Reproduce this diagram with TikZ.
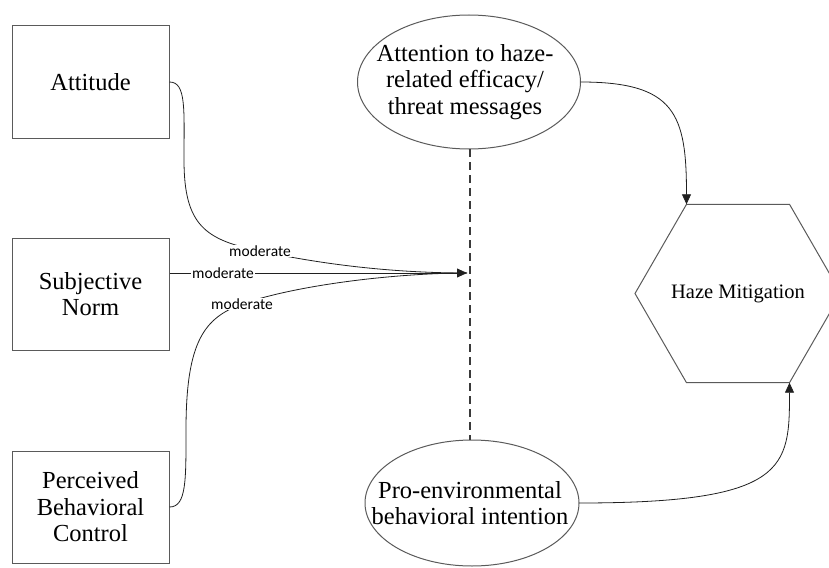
\documentclass[tikz,border=0pt]{standalone}
\usepackage{fontspec}
\setmainfont{Liberation Serif}
\newfontfamily\lblfont{Carlito}
\usetikzlibrary{shapes.geometric,arrows.meta}
\definecolor{shapeline}{HTML}{5A5A5A}
\definecolor{dashcol}{HTML}{3A3A3A}
\definecolor{conn}{HTML}{202020}
\begin{document}
\begin{tikzpicture}[x=1pt,y=-1pt,
  box/.style={draw=shapeline, line width=1pt, minimum width=157pt, minimum height=112pt,
    align=center, inner sep=0pt, font=\fontsize{24.5}{26.5}\selectfont},
  oval/.style={draw=shapeline, ellipse, line width=1pt, inner sep=0pt, outer sep=0pt},
  ovaltext/.style={align=center, inner sep=0pt, font=\fontsize{24.5}{26.5}\selectfont},
  hexline/.style={draw=shapeline, line width=1pt, line join=miter},
  hextext/.style={inner sep=0pt, font=\fontsize{20.5}{24}\selectfont},
  lbl/.style={fill=white, inner sep=1pt, font=\lblfont\fontsize{15.5}{17}\selectfont},
  link/.style={draw=conn, line width=0.8pt},
  tipar/.style={-{Triangle[length=10pt,width=9pt]}},
  dashline/.style={draw=dashcol, line width=1.2pt, dash pattern=on 8pt off 5pt}]
\useasboundingbox (0,0) rectangle (829,567);

% boxes
\node[box] (att) at (90.5,82) {Attitude};
\node[box] (sn) at (90.5,294) {Subjective\\Norm};
\node[box] (pbc) at (90.5,507) {Perceived\\Behavioral\\Control};

% ellipses
\node[oval, minimum width=223pt, minimum height=134pt] (attn) at (469,82) {};
\node[ovaltext] (attnT) at (465,82) {Attention to haze-\\related efficacy/\\threat messages};
\node[oval, minimum width=214pt, minimum height=126pt] (pro) at (472,503) {};
\node[ovaltext] (proT) at (470,503) {Pro-environmental\\behavioral intention};

% hexagon (regular, flat top, circumradius 103)
\node[hextext] (haze) at (738,293.5) {Haze Mitigation};
\draw[hexline] (haze.center) ++(-103,0) -- ++(51.5,-89.2) -- ++(103,0) -- ++(51.5,89.2)
  -- ++(-51.5,89.2) -- ++(-103,0) -- cycle;
\path (haze.center) ++(-51.5,-89.2) coordinate (hexTL);
\path (haze.center) ++(51.5,89.2) coordinate (hexBR);

% dashed moderator line
\draw[dashline] (attn.south -| 470,0) -- (pro.north -| 470,0);

% converging moderation arrows
\coordinate (tip) at (467,273);
\coordinate (mA) at (260,251);
\coordinate (mB) at (223,273);
\coordinate (mC) at (242,304);

\draw[link] (att.east) .. controls +(17,0) and (184,110) .. (184,160)
  .. controls (184,225) and (205,240) .. (mA)
  .. controls (330,266) and (400,273) .. (tip);
\draw[link] (pbc.east) .. controls +(17,0) and (186,480) .. (186,430)
  .. controls (186,340) and (205,318) .. (mC)
  .. controls (300,284) and (400,273) .. (tip);
\draw[link, tipar] (sn.east |- tip) -- (tip);

\node[lbl] (lblA) at (mA) {moderate};
\node[lbl] (lblB) at (mB) {moderate};
\node[lbl] (lblC) at (mC) {moderate};

% arrows to haze mitigation
\draw[link, tipar] (attn.east) .. controls +(95,0) and +(0,-90) .. (hexTL);
\draw[link, tipar] (pro.east) .. controls +(209,0) and +(0,85) .. (hexBR);
\end{tikzpicture}
\end{document}
